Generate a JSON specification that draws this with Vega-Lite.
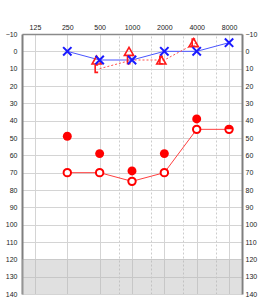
{
  "$schema": "https://vega.github.io/schema/vega-lite/v6.json",
  "width": 220,
  "height": 260,
  "autosize": {"type": "none"},
  "padding": {"left": 22, "top": 34, "right": 26, "bottom": 6},
  "background": "white",
  "config": {
    "view": {"stroke": null},
    "axis": {
      "labelFont": "Liberation Sans",
      "labelFontSize": 7,
      "labelColor": "#222222",
      "title": null,
      "ticks": false,
      "gridColor": "#d4d4d4",
      "gridWidth": 1,
      "labelOverlap": false,
      "labelFlush": false
    }
  },
  "datasets": {
    "pts": [
      {"f": 250, "db": 70, "s": "R_AC"},
      {"f": 500, "db": 70, "s": "R_AC"},
      {"f": 1000, "db": 75, "s": "R_AC"},
      {"f": 2000, "db": 70, "s": "R_AC"},
      {"f": 4000, "db": 45, "s": "R_AC"},
      {"f": 8000, "db": 45, "s": "R_AC"},
      {"f": 250, "db": 49, "s": "R_F"},
      {"f": 500, "db": 59, "s": "R_F"},
      {"f": 1000, "db": 69, "s": "R_F"},
      {"f": 2000, "db": 59, "s": "R_F"},
      {"f": 4000, "db": 39, "s": "R_F"},
      {"f": 250, "db": 0, "s": "L_AC"},
      {"f": 500, "db": 5, "s": "L_AC"},
      {"f": 1000, "db": 5, "s": "L_AC"},
      {"f": 2000, "db": 0, "s": "L_AC"},
      {"f": 4000, "db": 0, "s": "L_AC"},
      {"f": 8000, "db": -5, "s": "L_AC"},
      {"f": 500, "db": 5, "s": "TRI"},
      {"f": 1000, "db": 0, "s": "TRI"},
      {"f": 2000, "db": 5, "s": "TRI"},
      {"f": 4000, "db": -5, "s": "TRI"},
      {"f": 500, "db": 10, "s": "BR"},
      {"f": 1000, "db": 5, "s": "BR"},
      {"f": 2000, "db": 5, "s": "BR"},
      {"f": 4000, "db": -5, "s": "BR"},
      {"f": 8000, "db": 45, "s": "HALF"}
    ]
  },
  "layer": [
    {
      "data": {"values": [{"lo": 120, "hi": 140}]},
      "mark": {"type": "rect", "color": "#b4b4b4", "opacity": 0.42},
      "encoding": {
        "y": {
          "field": "lo", "type": "quantitative",
          "scale": {"domain": [-10, 140], "reverse": true, "nice": false, "zero": false},
          "axis": {
            "orient": "left",
            "values": [-10, 0, 10, 20, 30, 40, 50, 60, 70, 80, 90, 100, 110, 120, 130, 140],
            "grid": true,
            "domainColor": "#7f7f7f",
            "domainWidth": 2,
            "labelPadding": 5
          }
        },
        "y2": {"field": "hi"}
      }
    },
    {
      "data": {"name": "pts"},
      "transform": [{"filter": "datum.s === 'R_AC'"}],
      "mark": {"type": "line", "color": "#ff4040", "strokeWidth": 1},
      "encoding": {
        "x": {
          "field": "f", "type": "quantitative",
          "scale": {"type": "log", "domain": [94.7, 10560], "nice": false},
          "axis": {
            "orient": "top",
            "values": [125, 250, 500, 1000, 2000, 4000, 8000],
            "format": "d",
            "grid": true,
            "domainColor": "#8a8a8a",
            "domainWidth": 1.5,
            "labelPadding": 4
          }
        },
        "y": {
          "field": "db", "type": "quantitative",
          "axis": {
            "orient": "right",
            "values": [-10, 0, 10, 20, 30, 40, 50, 60, 70, 80, 90, 100, 110, 120, 130, 140],
            "grid": false,
            "domainColor": "#7f7f7f",
            "domainWidth": 2,
            "labelPadding": 3
          }
        }
      }
    },
    {
      "data": {"name": "pts"},
      "transform": [{"filter": "datum.s === 'L_AC'"}],
      "mark": {"type": "line", "color": "#4a55ff", "strokeWidth": 1},
      "encoding": {
        "x": {
          "field": "f", "type": "quantitative",
          "axis": {
            "orient": "bottom",
            "values": [750, 1500, 3000, 6000],
            "grid": true,
            "gridDash": [2, 2],
            "gridColor": "#cccccc",
            "labels": false,
            "domain": false
          }
        },
        "y": {"field": "db", "type": "quantitative", "axis": null}
      }
    },
    {
      "data": {"name": "pts"},
      "transform": [{"filter": "datum.s === 'BR'"}],
      "mark": {"type": "line", "color": "#ff5050", "strokeWidth": 1, "strokeDash": [2, 2]},
      "encoding": {
        "x": {"field": "f", "type": "quantitative", "axis": null},
        "y": {"field": "db", "type": "quantitative", "axis": null}
      }
    },
    {
      "data": {"name": "pts"},
      "transform": [{"filter": "datum.s === 'BR'"}],
      "mark": {"type": "point", "shape": "M0.4,-1H-0.4V1H0.4", "filled": false, "color": "#ff1a1a", "strokeWidth": 1.6, "size": 55, "xOffset": -3, "opacity": 1},
      "encoding": {
        "x": {"field": "f", "type": "quantitative", "axis": null},
        "y": {"field": "db", "type": "quantitative", "axis": null}
      }
    },
    {
      "data": {"name": "pts"},
      "transform": [{"filter": "datum.s === 'TRI'"}],
      "mark": {"type": "point", "shape": "triangle-up", "filled": false, "color": "#ff1a1a", "strokeWidth": 1.6, "size": 85, "xOffset": -3, "opacity": 1},
      "encoding": {
        "x": {"field": "f", "type": "quantitative", "axis": null},
        "y": {"field": "db", "type": "quantitative", "axis": null}
      }
    },
    {
      "data": {"name": "pts"},
      "transform": [{"filter": "datum.s === 'R_F'"}],
      "mark": {"type": "point", "shape": "circle", "filled": true, "color": "#ff0000", "size": 80, "opacity": 1},
      "encoding": {
        "x": {"field": "f", "type": "quantitative", "axis": null},
        "y": {"field": "db", "type": "quantitative", "axis": null}
      }
    },
    {
      "data": {"name": "pts"},
      "transform": [{"filter": "datum.s === 'R_AC'"}],
      "mark": {"type": "point", "shape": "circle", "filled": false, "fill": "white", "color": "#ff0000", "strokeWidth": 2, "size": 55, "opacity": 1, "fillOpacity": 1},
      "encoding": {
        "x": {"field": "f", "type": "quantitative", "axis": null},
        "y": {"field": "db", "type": "quantitative", "axis": null}
      }
    },
    {
      "data": {"name": "pts"},
      "transform": [{"filter": "datum.s === 'HALF'"}],
      "mark": {"type": "point", "shape": "M-1,0A1,1,0,0,1,1,0Z", "filled": true, "color": "#ff0000", "size": 70, "opacity": 1},
      "encoding": {
        "x": {"field": "f", "type": "quantitative", "axis": null},
        "y": {"field": "db", "type": "quantitative", "axis": null}
      }
    },
    {
      "data": {"name": "pts"},
      "transform": [{"filter": "datum.s === 'L_AC'"}],
      "mark": {"type": "point", "shape": "M-1,-1L1,1M1,-1L-1,1", "filled": false, "color": "#1a1aff", "strokeWidth": 2, "size": 70, "opacity": 1},
      "encoding": {
        "x": {"field": "f", "type": "quantitative", "axis": null},
        "y": {"field": "db", "type": "quantitative", "axis": null}
      }
    }
  ]
}
